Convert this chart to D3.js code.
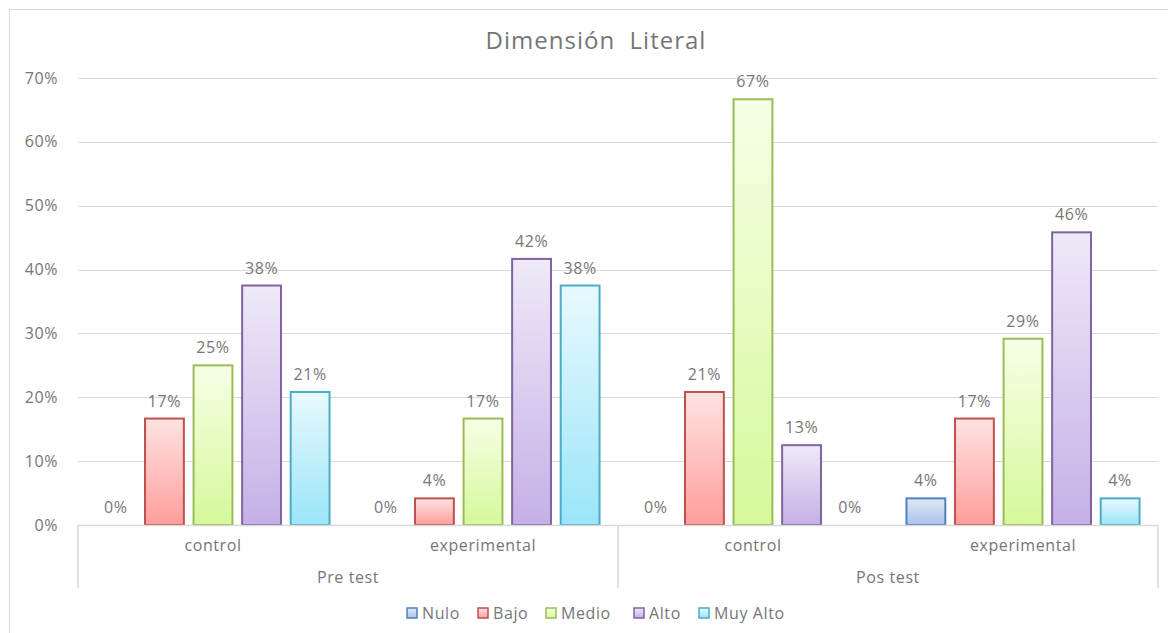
<!DOCTYPE html>
<html>
<head>
<meta charset="utf-8">
<script src="https://cdn.jsdelivr.net/npm/d3@7"></script>
<style>
  body { margin: 0; background: #fff; }
  svg text { font-family: "Open Sans", sans-serif; fill: #767676; letter-spacing: 0.6px; }
</style>
</head>
<body>
<div id="display"></div>
<script>
var groups = ["Pre test", "Pos test"]
var categories = ["control", "experimental", "control", "experimental"]
var series = ["Nulo", "Bajo", "Medio", "Alto", "Muy Alto"]
var nulo    = [0, 0, 0, 4.17]
var bajo    = [16.67, 4.17, 20.83, 16.67]
var medio   = [25, 16.67, 66.67, 29.17]
var alto    = [37.5, 41.67, 12.5, 45.83]
var muyAlto = [20.83, 37.5, 0, 4.17]
var yTicks = [0, 10, 20, 30, 40, 50, 60, 70]

var strokes = ["#4f81bd", "#c0504d", "#9bbb59", "#8064a2", "#4bacc6"]
var topFill = ["#dfe8f6", "#fde3e2", "#f6ffe6", "#efe9f8", "#e8f9fe"]
var botFill = ["#a9c2ea", "#ff9e9b", "#d6f89a", "#c5b0e6", "#9ae5f8"]

var values = [nulo, bajo, medio, alto, muyAlto]
var rows = []
categories.forEach(function(c, i) {
  series.forEach(function(s, j) {
    rows.push({cat: i, s: j, v: values[j][i]})
  })
})

var width = 1168, height = 633
var margin = {left: 78, right: 10, top: 78, bottom: 108}
var plotRight = 1158

var svg = d3.select("#display").append("svg")
    .attr("width", width).attr("height", height)

// chart frame
svg.append("rect")
    .attr("x", 9.5).attr("y", 9.5)
    .attr("width", 1200).attr("height", 700)
    .attr("fill", "#fff").attr("stroke", "#d9d9d9")

var defs = svg.append("defs")
series.forEach(function(s, j) {
  var g = defs.append("linearGradient")
      .attr("id", "grad" + j)
      .attr("x1", 0).attr("y1", 0).attr("x2", 0).attr("y2", 1)
  g.append("stop").attr("offset", "0%").attr("stop-color", topFill[j])
  g.append("stop").attr("offset", "100%").attr("stop-color", botFill[j])
})

var y = d3.scaleLinear().domain([0, 70]).range([525, 78])

var x0 = d3.scaleBand()
    .domain(d3.range(categories.length))
    .range([margin.left, plotRight])

var x1 = d3.scaleBand()
    .domain(d3.range(series.length))
    .range([0, x0.bandwidth()])
    .paddingInner(0.2)
    .paddingOuter(0.38)

// gridlines
svg.append("g")
  .selectAll("line")
  .data(yTicks)
  .join("line")
    .attr("x1", margin.left).attr("x2", plotRight)
    .attr("y1", d => Math.round(y(d)) + 0.5)
    .attr("y2", d => Math.round(y(d)) + 0.5)
    .attr("stroke", "#d9d9d9").attr("stroke-width", 1.2)

// y tick labels
svg.append("g")
  .selectAll("text")
  .data(yTicks)
  .join("text")
    .attr("x", 58)
    .attr("y", d => y(d))
    .attr("dy", "0.35em")
    .attr("text-anchor", "end")
    .style("font-size", "16px")
    .text(d => d + "%")

// bars
svg.append("g")
  .selectAll("rect")
  .data(rows.filter(d => d.v > 0))
  .join("rect")
    .attr("x", d => x0(d.cat) + x1(d.s))
    .attr("y", d => y(d.v))
    .attr("width", x1.bandwidth())
    .attr("height", d => y(0) - y(d.v))
    .attr("fill", d => "url(#grad" + d.s + ")")
    .attr("stroke", d => strokes[d.s])
    .attr("stroke-width", 2)

// value labels
svg.append("g")
  .selectAll("text")
  .data(rows)
  .join("text")
    .attr("x", d => x0(d.cat) + x1(d.s) + x1.bandwidth() / 2)
    .attr("y", d => y(d.v) - 12)
    .attr("text-anchor", "middle")
    .style("font-size", "16px")
    .text(d => Math.round(d.v) + "%")

// category axis
var axis = svg.append("g").attr("stroke", "#d9d9d9").attr("stroke-width", 1.5)
axis.append("line")
    .attr("x1", margin.left).attr("x2", plotRight)
    .attr("y1", y(0) + 0.5).attr("y2", y(0) + 0.5)
var xg = d3.scalePoint().domain(d3.range(groups.length + 1)).range([margin.left, plotRight])
axis.selectAll("line.sep")
  .data(d3.range(groups.length + 1))
  .join("line")
    .attr("class", "sep")
    .attr("x1", d => xg(d)).attr("x2", d => xg(d))
    .attr("y1", y(0)).attr("y2", 588)

svg.append("g")
  .selectAll("text")
  .data(categories)
  .join("text")
    .attr("x", (d, i) => x0(i) + x0.bandwidth() / 2)
    .attr("y", 551)
    .attr("text-anchor", "middle")
    .style("font-size", "16px")
    .text(d => d)

svg.append("g")
  .selectAll("text")
  .data(groups)
  .join("text")
    .attr("x", (d, i) => (xg(i) + xg(i + 1)) / 2)
    .attr("y", 583)
    .attr("text-anchor", "middle")
    .style("font-size", "16px")
    .text(d => d)

// title
svg.append("text")
    .attr("x", 596).attr("y", 49)
    .attr("text-anchor", "middle")
    .style("font-size", "24px")
    .style("letter-spacing", "1px")
    .attr("xml:space", "preserve")
    .text("Dimensión  Literal")

// legend
var legendX = [407, 478, 546, 634, 699]
var legend = svg.append("g")
  .selectAll("g")
  .data(series)
  .join("g")
    .attr("transform", (d, i) => "translate(" + legendX[i] + ",613)")
legend.append("rect")
    .attr("x", 0).attr("y", -5)
    .attr("width", 10).attr("height", 10)
    .attr("fill", (d, i) => "url(#grad" + i + ")")
    .attr("stroke", (d, i) => strokes[i])
    .attr("stroke-width", 1.5)
legend.append("text")
    .attr("x", 15).attr("y", 0)
    .attr("dy", "0.35em")
    .style("font-size", "16px")
    .text(d => d)
</script>
</body>
</html>
